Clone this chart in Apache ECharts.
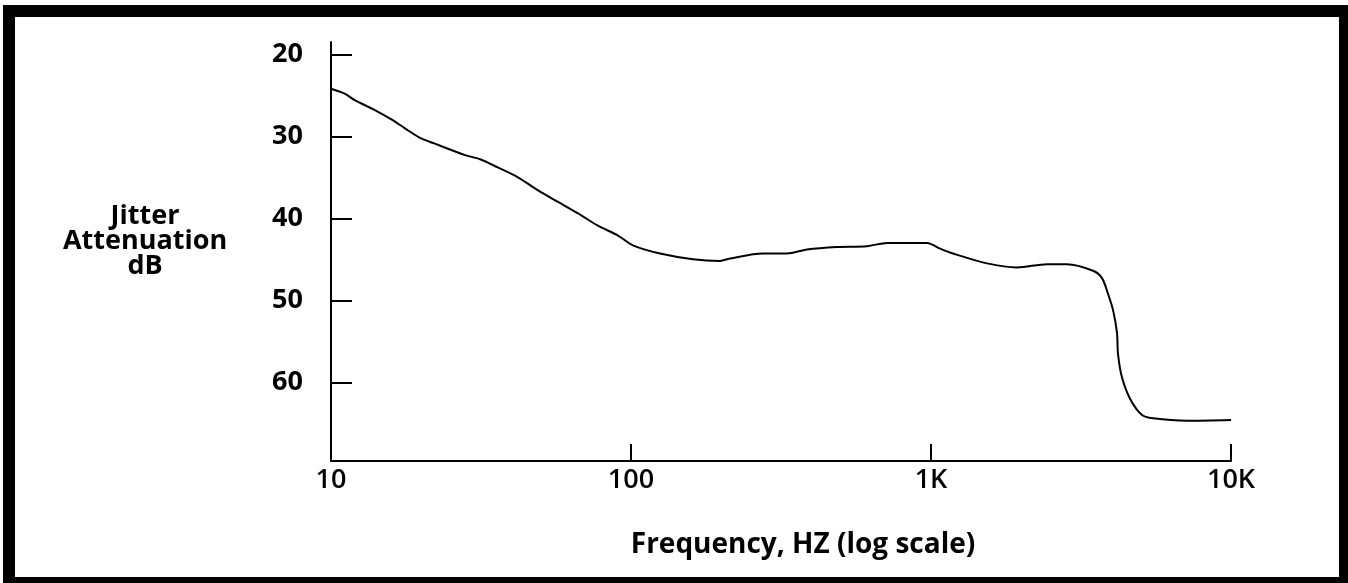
<!DOCTYPE html>
<html>
<head>
<meta charset="utf-8">
<script src="https://cdn.jsdelivr.net/npm/echarts@6/dist/echarts.min.js"></script>
<style>
html,body{margin:0;padding:0;background:#fff;}
#chart{width:1348px;height:583px;}
</style>
</head>
<body>
<div id="chart"></div>
<script>
// Frequency (Hz) and jitter attenuation (dB)
const freqHz = [10, 11.1, 12.0, 14.0, 16.0, 17.6, 19.8, 22.2, 25.3, 28.0, 31.4, 36.0, 42.0, 49.0, 57.1, 66.6, 77.6, 90.5, 101.5, 125, 161, 198, 214, 275, 331, 386, 486, 612, 714, 851, 970, 1072, 1184, 1537, 1935, 2436, 2840, 3467, 3715, 3890, 4044, 4169, 4200, 4330, 4607, 5051, 5495, 7135, 10000];
const attenDb = [24.2, 24.8, 25.6, 26.8, 28.0, 29.0, 30.2, 30.9, 31.7, 32.3, 32.8, 33.8, 35.0, 36.6, 38.0, 39.4, 40.9, 42.1, 43.3, 44.3, 45.0, 45.2, 44.9, 44.3, 44.3, 43.8, 43.5, 43.4, 43.0, 43.0, 43.0, 43.7, 44.3, 45.5, 46.0, 45.6, 45.6, 46.4, 47.3, 49.2, 51.2, 54.0, 56.5, 59.4, 62.0, 64.0, 64.4, 64.7, 64.6];
const yTicks = [20, 30, 40, 50, 60];
const xTicks = [10, 100, 1000, 10000];
const xTickLabels = ['10', '100', '1K', '10K'];
const yTitleLines = ['Jitter', 'Attenuation', 'dB'];
const xTitle = 'Frequency, HZ (log scale)';

const chart = echarts.init(document.getElementById('chart'));
const FONT = '"Open Sans", "DejaVu Sans", sans-serif';

chart.setOption({
  animation: false,
  backgroundColor: '#fff',
  grid: { left: 331, right: 117, top: 42, bottom: 122, containLabel: false },
  xAxis: {
    type: 'log',
    logBase: 10,
    min: 10,
    max: 10000,
    axisLine: { show: true, lineStyle: { color: '#000', width: 2 } },
    axisTick: { show: true, inside: true, length: 17, lineStyle: { color: '#000', width: 2 } },
    minorTick: { show: false },
    splitLine: { show: false },
    axisLabel: {
      color: '#000', fontFamily: FONT, fontSize: 27, fontWeight: 600, margin: 6,
      formatter: function (v) {
        const i = xTicks.indexOf(Math.round(v));
        return i >= 0 ? xTickLabels[i] : '';
      }
    }
  },
  yAxis: {
    type: 'value',
    inverse: true,
    min: 18.5,
    max: 69.6,
    axisLine: { show: true, lineStyle: { color: '#000', width: 2 } },
    axisTick: { show: true, inside: true, length: 21, customValues: yTicks, lineStyle: { color: '#000', width: 2 } },
    splitLine: { show: false },
    axisLabel: {
      color: '#000', fontFamily: FONT, fontSize: 27, fontWeight: 'bold', margin: 28,
      customValues: yTicks
    }
  },
  series: [{
    type: 'line',
    data: freqHz.map((f, i) => [f, attenDb[i]]),
    showSymbol: false,
    smooth: 0.3,
    lineStyle: { color: '#000', width: 2 },
    itemStyle: { color: '#000' }
  }],
  graphic: [
    {
      type: 'rect',
      shape: { x: 9, y: 11, width: 1336, height: 572 },
      style: { fill: null, stroke: '#000', lineWidth: 12 },
      silent: true
    },
    {
      type: 'text',
      x: 145, y: 241,
      style: {
        text: yTitleLines.join('\n'),
        align: 'center',
        verticalAlign: 'middle',
        font: 'bold 27px ' + FONT,
        lineHeight: 25,
        fill: '#000'
      }
    },
    {
      type: 'text',
      x: 803, y: 545,
      style: {
        text: xTitle,
        align: 'center',
        verticalAlign: 'middle',
        font: 'bold 28px ' + FONT,
        fill: '#000'
      }
    }
  ]
});
</script>
</body>
</html>
